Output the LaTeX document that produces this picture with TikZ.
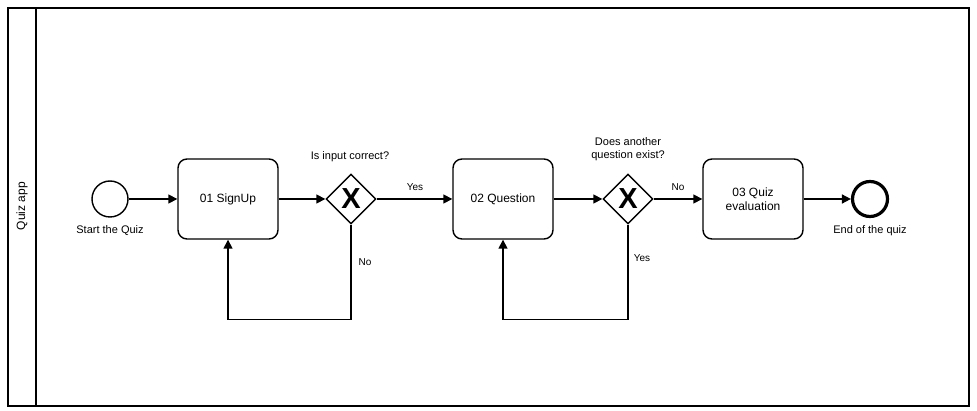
\documentclass[tikz,border=0pt]{standalone}
\usepackage{fontspec}
\setmainfont{Liberation Sans}
\usetikzlibrary{arrows.meta,shapes.geometric}

\tikzset{
  task/.style={rectangle, rounded corners=9pt, draw, line width=1.4pt, minimum width=100pt, minimum height=80pt, align=center, font=\fontsize{12}{14}\selectfont},
  gate/.style={diamond, draw, line width=1.4pt, minimum width=50pt, minimum height=50pt, inner sep=0pt, font=\fontsize{29}{29}\bfseries\selectfont},
  startev/.style={circle, draw, line width=1.4pt, minimum size=36pt, inner sep=0pt},
  endev/.style={circle, draw, line width=3.2pt, minimum size=35pt, inner sep=0pt},
  lbl/.style={font=\fontsize{11}{13}\selectfont, align=center, inner sep=0pt},
  flowlbl/.style={font=\fontsize{10}{12}\selectfont, inner sep=0pt},
  flow/.style={-{Triangle[length=9pt,width=9pt]}, line width=1.6pt},
}

\begin{document}
\begin{tikzpicture}[x=1pt, y=-1pt]
	\useasboundingbox (0,0) rectangle (977,411);
	
	% Pool and lane
	\draw[line width=2pt] (7.5,8) rectangle (969,406);
	\draw[line width=2pt] (36,8) -- (36,406);
	\node[rotate=90, font=\fontsize{12}{14}\selectfont] (lane) at (22,206) {Quiz app};
	
	% Events
	\node[startev] (start) at (110,199) {};
	\node[endev] (end) at (870,199) {};
	\node[lbl] (startlbl) at (110,231) {Start the Quiz};
	\node[lbl] (endlbl) at (870,231) {End of the quiz};
	
	% Tasks
	\node[task] (signup) at (228,199) {01 SignUp};
	\node[task] (question) at (503,199) {02 Question};
	\node[task] (eval) at (753,199) {03 Quiz\\evaluation};
	
	% Gateways
	\node[gate] (g1) at (351,199) {X};
	\node[gate] (g2) at (628,199) {X};
	\node[lbl] (g1lbl) at (350,157) {Is input correct?};
	\node[lbl] (g2lbl) at (628,149) {Does another\\question exist?};
	
	% Flows
	\draw[flow] (start) -- (signup);
	\draw[flow] (signup) -- (g1);
	\draw[flow] (g1) -- (question);
	\draw[flow] (question) -- (g2);
	\draw[flow] (g2) -- (eval);
	\draw[flow] (eval) -- (end);
	
	\draw[flow] (g1.south) -- ++(0,95) -| (signup.south);
	\draw[flow] (g2.south) -- ++(0,95) -| (question.south);
	
	% Flow labels
	\node[flowlbl] (yes1) at (415,187) {Yes};
	\node[flowlbl] (no1) at (365,262) {No};
	\node[flowlbl] (no2) at (678,187) {No};
	\node[flowlbl] (yes2) at (642,258) {Yes};
\end{tikzpicture}
\end{document}
